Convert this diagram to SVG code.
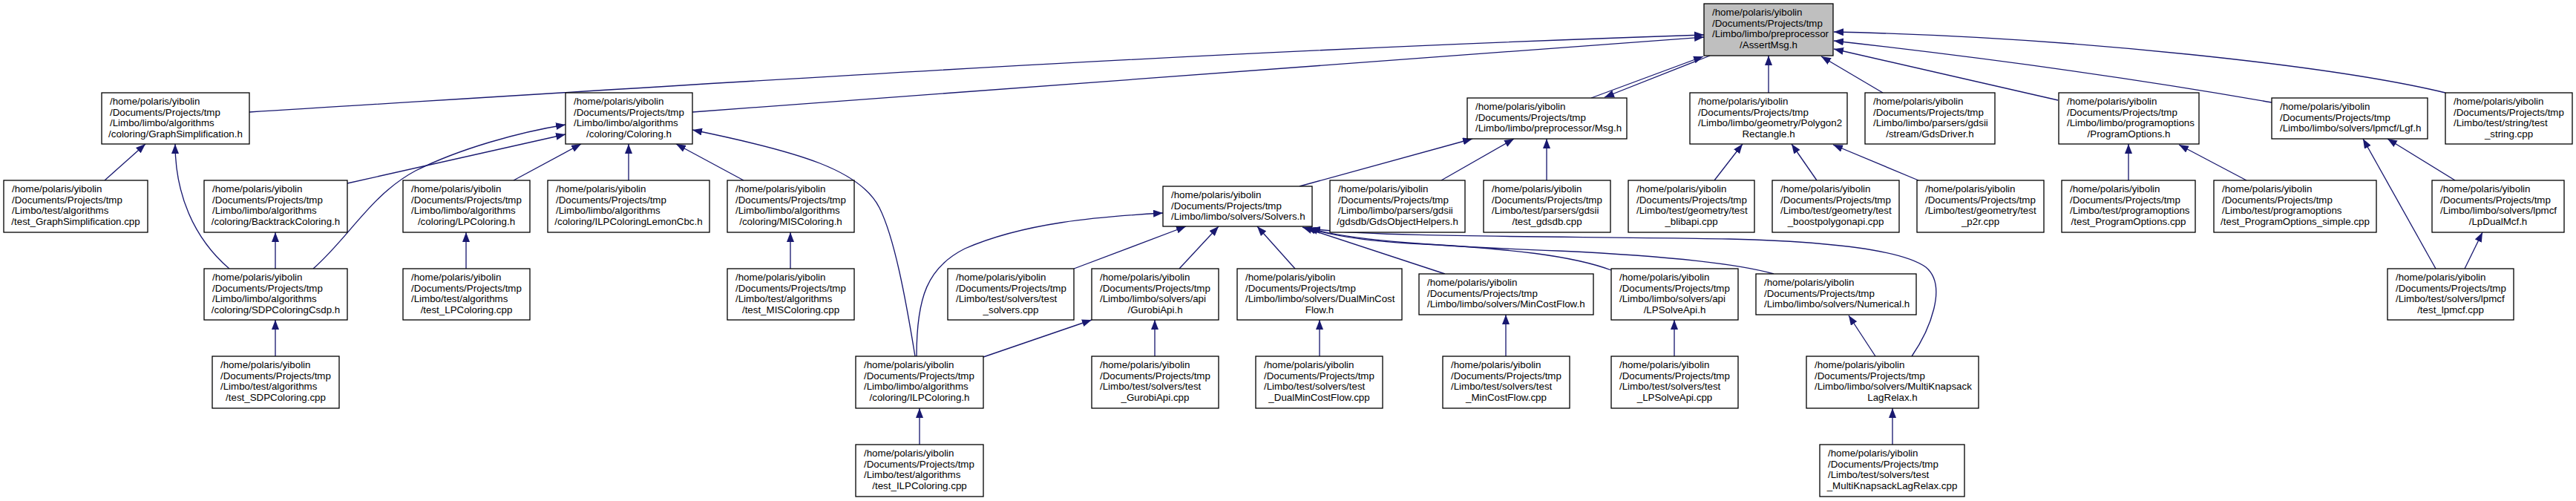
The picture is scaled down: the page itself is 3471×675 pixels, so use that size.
<svg xmlns="http://www.w3.org/2000/svg" width="3471" height="675" viewBox="0 0 3471 675">
<style>
.node rect{fill:#ffffff;stroke:#000000;stroke-width:1.3}
.node rect.g{fill:#bfbfbf}
.t{font-family:"Liberation Sans",Arial,Helvetica,sans-serif;font-size:13.33px;fill:#000000}
.c{text-anchor:middle}
.e path{fill:none;stroke:#191970;stroke-width:1.33;marker-end:url(#a)}
</style>
<defs>
<marker id="a" viewBox="0 0 13 10" refX="13" refY="5" markerWidth="13" markerHeight="10" markerUnits="userSpaceOnUse" orient="auto"><path d="M0,0 L13,5 L0,10 z" fill="#191970"/></marker>
</defs>
<rect x="0" y="0" width="3471" height="675" fill="#ffffff"/>
<g id="edges" class="e">
<path d="M336,151 C1000,110 1600,70 2296,47"/>
<path d="M933,151 L2296,50"/>
<path d="M2144,132 L2295,76"/>
<path d="M2304,75 L2162,131"/>
<path d="M2383,125 L2383,75"/>
<path d="M2537,125 L2454,76"/>
<path d="M2773,135 L2471,66"/>
<path d="M3061,138 Q2800,92 2471,55"/>
<path d="M3295,125 C3150,90 2800,50 2471,43"/>
<path d="M1751,251 L1984,187"/>
<path d="M1942,243 L2040,187"/>
<path d="M2084,243 L2084,187"/>
<path d="M2310,243 L2348,194"/>
<path d="M2448,243 L2414,194"/>
<path d="M2585,243 L2470,195"/>
<path d="M2868,243 L2868,194"/>
<path d="M3027,243 L2936,195"/>
<path d="M3308,243 L3217,187"/>
<path d="M3282,362 L3184,187"/>
<path d="M3321,362 L3345,313"/>
<path d="M692,243 L783,194"/>
<path d="M847,243 L847,194"/>
<path d="M1002,243 L911,194"/>
<path d="M468,247 L762,181"/>
<path d="M422,362 C470,320 500,262 560,230 C620,200 700,178 762,168"/>
<path d="M309,362 C260,320 236,260 236,194"/>
<path d="M141,243 L196,194"/>
<path d="M371,480 L371,431"/>
<path d="M371,362 L371,313"/>
<path d="M628,362 L628,313"/>
<path d="M1065,362 L1065,313"/>
<path d="M1233,480 C1220,400 1205,320 1185,280 C1160,230 1080,205 933,175"/>
<path d="M1235,480 C1235,400 1250,360 1300,335 C1380,300 1480,292 1567,287"/>
<path d="M1325,481 L1471,431"/>
<path d="M1447,362 L1598,305"/>
<path d="M1589,362 L1642,305"/>
<path d="M1745,362 L1694,305"/>
<path d="M1947,369 L1755,306"/>
<path d="M2171,364 C2120,345 2040,335 1900,328 C1830,324 1790,316 1760,307"/>
<path d="M2390,369 C2340,355 2250,345 2100,338 C1950,332 1820,325 1763,307"/>
<path d="M2576,480 C2600,445 2625,385 2595,360 C2560,335 2450,325 2330,322 C2100,318 1850,320 1766,308"/>
<path d="M2527,480 L2491,425"/>
<path d="M2550,599 L2550,550"/>
<path d="M2029,480 L2029,424"/>
<path d="M2256,480 L2256,431"/>
<path d="M1239,599 L1239,550"/>
<path d="M1556,480 L1556,431"/>
<path d="M1778,480 L1778,431"/>
</g>
<g id="n_assert" class="node"><rect class="g" x="2296" y="5" width="174" height="70"/><text class="t"><tspan x="2307" y="21">/home/polaris/yibolin</tspan><tspan x="2307" y="35.7">/Documents/Projects/tmp</tspan><tspan x="2307" y="50.3">/Limbo/limbo/preprocessor</tspan><tspan class="c" x="2383" y="65">/AssertMsg.h</tspan></text></g>
<g id="n_graphsimp" class="node"><rect x="137" y="125" width="199" height="69"/><text class="t"><tspan x="148" y="141">/home/polaris/yibolin</tspan><tspan x="148" y="155.7">/Documents/Projects/tmp</tspan><tspan x="148" y="170.3">/Limbo/limbo/algorithms</tspan><tspan class="c" x="236.5" y="185">/coloring/GraphSimplification.h</tspan></text></g>
<g id="n_coloring" class="node"><rect x="762" y="125" width="171" height="69"/><text class="t"><tspan x="773" y="141">/home/polaris/yibolin</tspan><tspan x="773" y="155.7">/Documents/Projects/tmp</tspan><tspan x="773" y="170.3">/Limbo/limbo/algorithms</tspan><tspan class="c" x="847.5" y="185">/coloring/Coloring.h</tspan></text></g>
<g id="n_msg" class="node"><rect x="1977" y="132" width="215" height="55"/><text class="t"><tspan x="1988" y="148">/home/polaris/yibolin</tspan><tspan x="1988" y="162.7">/Documents/Projects/tmp</tspan><tspan x="1988" y="177.3">/Limbo/limbo/preprocessor/Msg.h</tspan></text></g>
<g id="n_poly2rect" class="node"><rect x="2277" y="125" width="212" height="69"/><text class="t"><tspan x="2288" y="141">/home/polaris/yibolin</tspan><tspan x="2288" y="155.7">/Documents/Projects/tmp</tspan><tspan x="2288" y="170.3">/Limbo/limbo/geometry/Polygon2</tspan><tspan class="c" x="2383" y="185">Rectangle.h</tspan></text></g>
<g id="n_gdsdriver" class="node"><rect x="2513" y="125" width="175" height="69"/><text class="t"><tspan x="2524" y="141">/home/polaris/yibolin</tspan><tspan x="2524" y="155.7">/Documents/Projects/tmp</tspan><tspan x="2524" y="170.3">/Limbo/limbo/parsers/gdsii</tspan><tspan class="c" x="2600.5" y="185">/stream/GdsDriver.h</tspan></text></g>
<g id="n_progopt" class="node"><rect x="2774" y="125" width="189" height="69"/><text class="t"><tspan x="2785" y="141">/home/polaris/yibolin</tspan><tspan x="2785" y="155.7">/Documents/Projects/tmp</tspan><tspan x="2785" y="170.3">/Limbo/limbo/programoptions</tspan><tspan class="c" x="2868.5" y="185">/ProgramOptions.h</tspan></text></g>
<g id="n_lgf" class="node"><rect x="3061" y="132" width="210" height="55"/><text class="t"><tspan x="3072" y="148">/home/polaris/yibolin</tspan><tspan x="3072" y="162.7">/Documents/Projects/tmp</tspan><tspan x="3072" y="177.3">/Limbo/limbo/solvers/lpmcf/Lgf.h</tspan></text></g>
<g id="n_teststring" class="node"><rect x="3295" y="125" width="171" height="69"/><text class="t"><tspan x="3306" y="141">/home/polaris/yibolin</tspan><tspan x="3306" y="155.7">/Documents/Projects/tmp</tspan><tspan x="3306" y="170.3">/Limbo/test/string/test</tspan><tspan class="c" x="3380.5" y="185">_string.cpp</tspan></text></g>
<g id="n_test_graphsimp" class="node"><rect x="5" y="243" width="194" height="70"/><text class="t"><tspan x="16" y="259">/home/polaris/yibolin</tspan><tspan x="16" y="273.7">/Documents/Projects/tmp</tspan><tspan x="16" y="288.3">/Limbo/test/algorithms</tspan><tspan class="c" x="102" y="303">/test_GraphSimplification.cpp</tspan></text></g>
<g id="n_backtrack" class="node"><rect x="275" y="243" width="193" height="70"/><text class="t"><tspan x="286" y="259">/home/polaris/yibolin</tspan><tspan x="286" y="273.7">/Documents/Projects/tmp</tspan><tspan x="286" y="288.3">/Limbo/limbo/algorithms</tspan><tspan class="c" x="371.5" y="303">/coloring/BacktrackColoring.h</tspan></text></g>
<g id="n_lpcoloring" class="node"><rect x="543" y="243" width="171" height="70"/><text class="t"><tspan x="554" y="259">/home/polaris/yibolin</tspan><tspan x="554" y="273.7">/Documents/Projects/tmp</tspan><tspan x="554" y="288.3">/Limbo/limbo/algorithms</tspan><tspan class="c" x="628.5" y="303">/coloring/LPColoring.h</tspan></text></g>
<g id="n_ilplemon" class="node"><rect x="738" y="243" width="218" height="70"/><text class="t"><tspan x="749" y="259">/home/polaris/yibolin</tspan><tspan x="749" y="273.7">/Documents/Projects/tmp</tspan><tspan x="749" y="288.3">/Limbo/limbo/algorithms</tspan><tspan class="c" x="847" y="303">/coloring/ILPColoringLemonCbc.h</tspan></text></g>
<g id="n_miscoloring" class="node"><rect x="980" y="243" width="171" height="70"/><text class="t"><tspan x="991" y="259">/home/polaris/yibolin</tspan><tspan x="991" y="273.7">/Documents/Projects/tmp</tspan><tspan x="991" y="288.3">/Limbo/limbo/algorithms</tspan><tspan class="c" x="1065.5" y="303">/coloring/MISColoring.h</tspan></text></g>
<g id="n_solvers" class="node"><rect x="1567" y="251" width="201" height="54"/><text class="t"><tspan x="1578" y="267">/home/polaris/yibolin</tspan><tspan x="1578" y="281.7">/Documents/Projects/tmp</tspan><tspan x="1578" y="296.3">/Limbo/limbo/solvers/Solvers.h</tspan></text></g>
<g id="n_gdsobj" class="node"><rect x="1792" y="243" width="182" height="70"/><text class="t"><tspan x="1803" y="259">/home/polaris/yibolin</tspan><tspan x="1803" y="273.7">/Documents/Projects/tmp</tspan><tspan x="1803" y="288.3">/Limbo/limbo/parsers/gdsii</tspan><tspan class="c" x="1883" y="303">/gdsdb/GdsObjectHelpers.h</tspan></text></g>
<g id="n_testgdsdb" class="node"><rect x="1999" y="243" width="171" height="70"/><text class="t"><tspan x="2010" y="259">/home/polaris/yibolin</tspan><tspan x="2010" y="273.7">/Documents/Projects/tmp</tspan><tspan x="2010" y="288.3">/Limbo/test/parsers/gdsii</tspan><tspan class="c" x="2084.5" y="303">/test_gdsdb.cpp</tspan></text></g>
<g id="n_testblibapi" class="node"><rect x="2194" y="243" width="170" height="70"/><text class="t"><tspan x="2205" y="259">/home/polaris/yibolin</tspan><tspan x="2205" y="273.7">/Documents/Projects/tmp</tspan><tspan x="2205" y="288.3">/Limbo/test/geometry/test</tspan><tspan class="c" x="2279" y="303">_blibapi.cpp</tspan></text></g>
<g id="n_testboost" class="node"><rect x="2388" y="243" width="171" height="70"/><text class="t"><tspan x="2399" y="259">/home/polaris/yibolin</tspan><tspan x="2399" y="273.7">/Documents/Projects/tmp</tspan><tspan x="2399" y="288.3">/Limbo/test/geometry/test</tspan><tspan class="c" x="2473.5" y="303">_boostpolygonapi.cpp</tspan></text></g>
<g id="n_testp2r" class="node"><rect x="2583" y="243" width="171" height="70"/><text class="t"><tspan x="2594" y="259">/home/polaris/yibolin</tspan><tspan x="2594" y="273.7">/Documents/Projects/tmp</tspan><tspan x="2594" y="288.3">/Limbo/test/geometry/test</tspan><tspan class="c" x="2668.5" y="303">_p2r.cpp</tspan></text></g>
<g id="n_test_progopt" class="node"><rect x="2778" y="243" width="180" height="70"/><text class="t"><tspan x="2789" y="259">/home/polaris/yibolin</tspan><tspan x="2789" y="273.7">/Documents/Projects/tmp</tspan><tspan x="2789" y="288.3">/Limbo/test/programoptions</tspan><tspan class="c" x="2868" y="303">/test_ProgramOptions.cpp</tspan></text></g>
<g id="n_test_progopt_simple" class="node"><rect x="2983" y="243" width="219" height="70"/><text class="t"><tspan x="2994" y="259">/home/polaris/yibolin</tspan><tspan x="2994" y="273.7">/Documents/Projects/tmp</tspan><tspan x="2994" y="288.3">/Limbo/test/programoptions</tspan><tspan class="c" x="3092.5" y="303">/test_ProgramOptions_simple.cpp</tspan></text></g>
<g id="n_lpdualmcf" class="node"><rect x="3277" y="243" width="178" height="70"/><text class="t"><tspan x="3288" y="259">/home/polaris/yibolin</tspan><tspan x="3288" y="273.7">/Documents/Projects/tmp</tspan><tspan x="3288" y="288.3">/Limbo/limbo/solvers/lpmcf</tspan><tspan class="c" x="3366" y="303">/LpDualMcf.h</tspan></text></g>
<g id="n_sdp" class="node"><rect x="275" y="362" width="193" height="69"/><text class="t"><tspan x="286" y="378">/home/polaris/yibolin</tspan><tspan x="286" y="392.7">/Documents/Projects/tmp</tspan><tspan x="286" y="407.3">/Limbo/limbo/algorithms</tspan><tspan class="c" x="371.5" y="422">/coloring/SDPColoringCsdp.h</tspan></text></g>
<g id="n_test_lpcoloring" class="node"><rect x="543" y="362" width="171" height="69"/><text class="t"><tspan x="554" y="378">/home/polaris/yibolin</tspan><tspan x="554" y="392.7">/Documents/Projects/tmp</tspan><tspan x="554" y="407.3">/Limbo/test/algorithms</tspan><tspan class="c" x="628.5" y="422">/test_LPColoring.cpp</tspan></text></g>
<g id="n_test_miscoloring" class="node"><rect x="980" y="362" width="171" height="69"/><text class="t"><tspan x="991" y="378">/home/polaris/yibolin</tspan><tspan x="991" y="392.7">/Documents/Projects/tmp</tspan><tspan x="991" y="407.3">/Limbo/test/algorithms</tspan><tspan class="c" x="1065.5" y="422">/test_MISColoring.cpp</tspan></text></g>
<g id="n_testsolvers" class="node"><rect x="1277" y="362" width="170" height="69"/><text class="t"><tspan x="1288" y="378">/home/polaris/yibolin</tspan><tspan x="1288" y="392.7">/Documents/Projects/tmp</tspan><tspan x="1288" y="407.3">/Limbo/test/solvers/test</tspan><tspan class="c" x="1362" y="422">_solvers.cpp</tspan></text></g>
<g id="n_gurobi" class="node"><rect x="1471" y="362" width="171" height="69"/><text class="t"><tspan x="1482" y="378">/home/polaris/yibolin</tspan><tspan x="1482" y="392.7">/Documents/Projects/tmp</tspan><tspan x="1482" y="407.3">/Limbo/limbo/solvers/api</tspan><tspan class="c" x="1556.5" y="422">/GurobiApi.h</tspan></text></g>
<g id="n_dualmcf" class="node"><rect x="1667" y="362" width="222" height="69"/><text class="t"><tspan x="1678" y="378">/home/polaris/yibolin</tspan><tspan x="1678" y="392.7">/Documents/Projects/tmp</tspan><tspan x="1678" y="407.3">/Limbo/limbo/solvers/DualMinCost</tspan><tspan class="c" x="1778" y="422">Flow.h</tspan></text></g>
<g id="n_mincostflow" class="node"><rect x="1912" y="369" width="235" height="55"/><text class="t"><tspan x="1923" y="385">/home/polaris/yibolin</tspan><tspan x="1923" y="399.7">/Documents/Projects/tmp</tspan><tspan x="1923" y="414.3">/Limbo/limbo/solvers/MinCostFlow.h</tspan></text></g>
<g id="n_lpsolve" class="node"><rect x="2171" y="362" width="171" height="69"/><text class="t"><tspan x="2182" y="378">/home/polaris/yibolin</tspan><tspan x="2182" y="392.7">/Documents/Projects/tmp</tspan><tspan x="2182" y="407.3">/Limbo/limbo/solvers/api</tspan><tspan class="c" x="2256.5" y="422">/LPSolveApi.h</tspan></text></g>
<g id="n_numerical" class="node"><rect x="2366" y="369" width="216" height="55"/><text class="t"><tspan x="2377" y="385">/home/polaris/yibolin</tspan><tspan x="2377" y="399.7">/Documents/Projects/tmp</tspan><tspan x="2377" y="414.3">/Limbo/limbo/solvers/Numerical.h</tspan></text></g>
<g id="n_test_lpmcf" class="node"><rect x="3217" y="362" width="170" height="69"/><text class="t"><tspan x="3228" y="378">/home/polaris/yibolin</tspan><tspan x="3228" y="392.7">/Documents/Projects/tmp</tspan><tspan x="3228" y="407.3">/Limbo/test/solvers/lpmcf</tspan><tspan class="c" x="3302" y="422">/test_lpmcf.cpp</tspan></text></g>
<g id="n_test_sdp" class="node"><rect x="286" y="480" width="171" height="70"/><text class="t"><tspan x="297" y="496">/home/polaris/yibolin</tspan><tspan x="297" y="510.7">/Documents/Projects/tmp</tspan><tspan x="297" y="525.3">/Limbo/test/algorithms</tspan><tspan class="c" x="371.5" y="540">/test_SDPColoring.cpp</tspan></text></g>
<g id="n_ilpcoloring" class="node"><rect x="1153" y="480" width="172" height="70"/><text class="t"><tspan x="1164" y="496">/home/polaris/yibolin</tspan><tspan x="1164" y="510.7">/Documents/Projects/tmp</tspan><tspan x="1164" y="525.3">/Limbo/limbo/algorithms</tspan><tspan class="c" x="1239" y="540">/coloring/ILPColoring.h</tspan></text></g>
<g id="n_test_gurobi" class="node"><rect x="1471" y="480" width="171" height="70"/><text class="t"><tspan x="1482" y="496">/home/polaris/yibolin</tspan><tspan x="1482" y="510.7">/Documents/Projects/tmp</tspan><tspan x="1482" y="525.3">/Limbo/test/solvers/test</tspan><tspan class="c" x="1556.5" y="540">_GurobiApi.cpp</tspan></text></g>
<g id="n_test_dualmcf" class="node"><rect x="1692" y="480" width="171" height="70"/><text class="t"><tspan x="1703" y="496">/home/polaris/yibolin</tspan><tspan x="1703" y="510.7">/Documents/Projects/tmp</tspan><tspan x="1703" y="525.3">/Limbo/test/solvers/test</tspan><tspan class="c" x="1777.5" y="540">_DualMinCostFlow.cpp</tspan></text></g>
<g id="n_test_mincostflow" class="node"><rect x="1944" y="480" width="171" height="70"/><text class="t"><tspan x="1955" y="496">/home/polaris/yibolin</tspan><tspan x="1955" y="510.7">/Documents/Projects/tmp</tspan><tspan x="1955" y="525.3">/Limbo/test/solvers/test</tspan><tspan class="c" x="2029.5" y="540">_MinCostFlow.cpp</tspan></text></g>
<g id="n_test_lpsolve" class="node"><rect x="2171" y="480" width="171" height="70"/><text class="t"><tspan x="2182" y="496">/home/polaris/yibolin</tspan><tspan x="2182" y="510.7">/Documents/Projects/tmp</tspan><tspan x="2182" y="525.3">/Limbo/test/solvers/test</tspan><tspan class="c" x="2256.5" y="540">_LPSolveApi.cpp</tspan></text></g>
<g id="n_mk" class="node"><rect x="2434" y="480" width="232" height="70"/><text class="t"><tspan x="2445" y="496">/home/polaris/yibolin</tspan><tspan x="2445" y="510.7">/Documents/Projects/tmp</tspan><tspan x="2445" y="525.3">/Limbo/limbo/solvers/MultiKnapsack</tspan><tspan class="c" x="2550" y="540">LagRelax.h</tspan></text></g>
<g id="n_test_ilp" class="node"><rect x="1153" y="599" width="172" height="70"/><text class="t"><tspan x="1164" y="615">/home/polaris/yibolin</tspan><tspan x="1164" y="629.7">/Documents/Projects/tmp</tspan><tspan x="1164" y="644.3">/Limbo/test/algorithms</tspan><tspan class="c" x="1239" y="659">/test_ILPColoring.cpp</tspan></text></g>
<g id="n_test_mk" class="node"><rect x="2452" y="599" width="195" height="70"/><text class="t"><tspan x="2463" y="615">/home/polaris/yibolin</tspan><tspan x="2463" y="629.7">/Documents/Projects/tmp</tspan><tspan x="2463" y="644.3">/Limbo/test/solvers/test</tspan><tspan class="c" x="2549.5" y="659">_MultiKnapsackLagRelax.cpp</tspan></text></g>
</svg>
